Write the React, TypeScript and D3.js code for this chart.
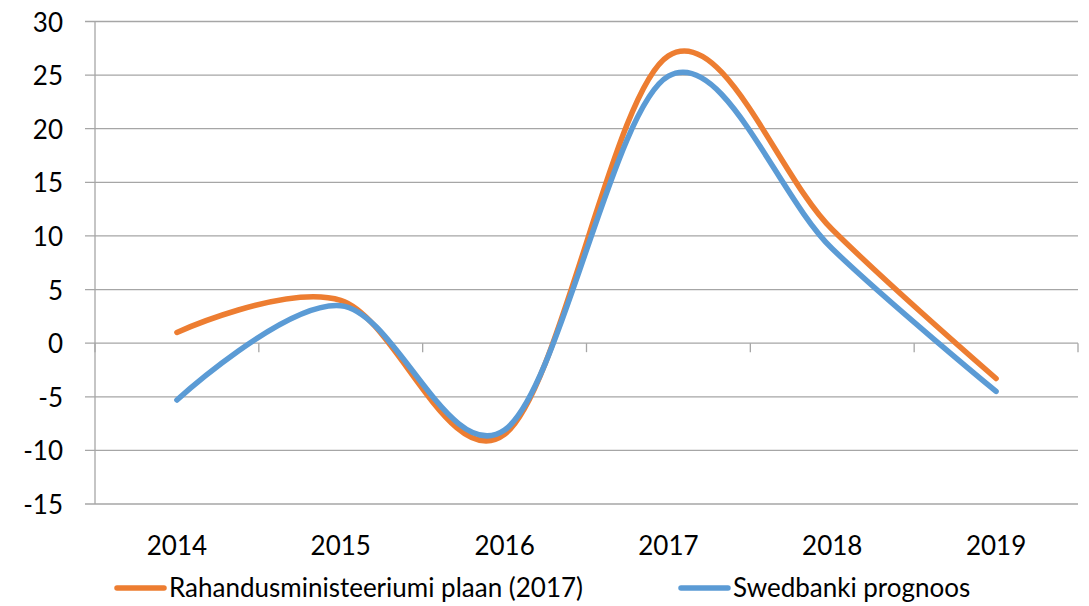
import React from "react";
import * as d3 from "d3";

const WIDTH = 1089;
const HEIGHT = 606;
const MARGIN = { top: 21.5, right: 11, bottom: 102, left: 95 };

const YEARS = ["2014", "2015", "2016", "2017", "2018", "2019"];
const PLAN = [1.0, 4.0, -8.5, 26.8, 10.6, -3.3];
const SWEDBANK = [-5.3, 3.5, -8.1, 24.9, 8.8, -4.5];
const Y_TICKS = [-15, -10, -5, 0, 5, 10, 15, 20, 25, 30];

const SERIES = [
  { name: "Rahandusministeeriumi plaan (2017)", values: PLAN, color: "#ED7D31", legendX: 117 },
  { name: "Swedbanki prognoos", values: SWEDBANK, color: "#5B9BD5", legendX: 681 },
];

const GRID = "#A6A6A6";
const FONT = "Lato, 'Open Sans', sans-serif";
const FONT_SIZE = 26;

const App = () => {
  const boundsWidth = WIDTH - MARGIN.left - MARGIN.right;
  const boundsHeight = HEIGHT - MARGIN.top - MARGIN.bottom;

  const xScale = d3
    .scaleBand()
    .domain(YEARS)
    .range([MARGIN.left, MARGIN.left + boundsWidth])
    .padding(0);

  const yScale = d3
    .scaleLinear()
    .domain([-15, 30])
    .range([MARGIN.top + boundsHeight, MARGIN.top]);

  const line = d3
    .line<number>()
    .x((_, i) => (xScale(YEARS[i]) ?? 0) + xScale.bandwidth() / 2)
    .y((d) => yScale(d))
    .curve(d3.curveCardinal.tension(0));

  const boundaries = [...YEARS.map((y) => xScale(y) ?? 0), MARGIN.left + boundsWidth];
  const zeroY = yScale(0);

  return (
    <svg width={WIDTH} height={HEIGHT} style={{ position: "absolute", left: 0, top: 0 }}>
      <rect width={WIDTH} height={HEIGHT} fill="white" />
      {/* horizontal gridlines + y labels */}
      {Y_TICKS.map((t) => (
        <g key={t}>
          <line
            x1={MARGIN.left - 10}
            x2={MARGIN.left + boundsWidth}
            y1={yScale(t)}
            y2={yScale(t)}
            stroke={GRID}
            strokeWidth={1.3}
          />
          <text
            x={63}
            y={yScale(t)}
            textAnchor="end"
            dominantBaseline="central"
            fontSize={FONT_SIZE}
            fontFamily={FONT}
            fill="#000"
          >
            {t}
          </text>
        </g>
      ))}
      {/* y axis line */}
      <line
        x1={MARGIN.left}
        x2={MARGIN.left}
        y1={MARGIN.top}
        y2={MARGIN.top + boundsHeight}
        stroke={GRID}
        strokeWidth={1.3}
      />
      {/* category ticks on the zero line */}
      {boundaries.map((bx, i) => (
        <line key={i} x1={bx} x2={bx} y1={zeroY} y2={zeroY + 9} stroke={GRID} strokeWidth={1.3} />
      ))}
      {/* x labels */}
      {YEARS.map((y) => (
        <text
          key={y}
          x={(xScale(y) ?? 0) + xScale.bandwidth() / 2}
          y={545}
          textAnchor="middle"
          dominantBaseline="central"
          fontSize={FONT_SIZE}
          fontFamily={FONT}
          fill="#000"
        >
          {y}
        </text>
      ))}
      {/* series lines */}
      {SERIES.map((s) => (
        <path
          key={s.name}
          d={line(s.values) ?? ""}
          fill="none"
          stroke={s.color}
          strokeWidth={5.5}
          strokeLinecap="round"
          strokeLinejoin="round"
        />
      ))}
      {/* legend */}
      {SERIES.map((s) => (
        <g key={s.name}>
          <line
            x1={s.legendX}
            x2={s.legendX + 47}
            y1={588}
            y2={588}
            stroke={s.color}
            strokeWidth={5.5}
            strokeLinecap="round"
          />
          <text
            x={s.legendX + 52}
            y={587}
            dominantBaseline="central"
            fontSize={FONT_SIZE}
            fontFamily={FONT}
            fill="#000"
          >
            {s.name}
          </text>
        </g>
      ))}
    </svg>
  );
};

export default App;
